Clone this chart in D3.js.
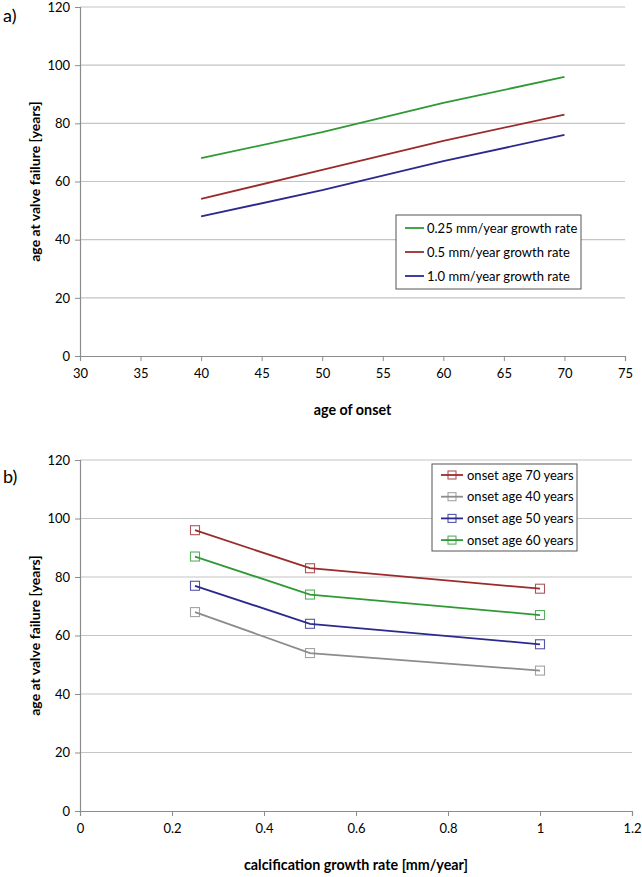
<!DOCTYPE html>
<html><head><meta charset="utf-8">
<script src="https://cdn.jsdelivr.net/npm/d3@7/dist/d3.min.js"></script>
<style>
body{margin:0;background:#fff;}
svg text{font-family:Lato,"Open Sans",sans-serif;fill:#000;}
</style></head>
<body><svg id="c" width="642" height="877"></svg>
<script>
// ---- data ----
const onsetAges = [40, 50, 60, 70];
const growthRates = [0.25, 0.5, 1.0];
const fail_025 = [68, 77, 87, 96];
const fail_05  = [54, 64, 74, 83];
const fail_10  = [48, 57, 67, 76];
const onset70 = [96, 83, 76];
const onset40 = [68, 54, 48];
const onset50 = [77, 64, 57];
const onset60 = [87, 74, 67];
const yTicks = [0, 20, 40, 60, 80, 100, 120];
const xTicksA = [30, 35, 40, 45, 50, 55, 60, 65, 70, 75];
const xTicksB = [0, 0.2, 0.4, 0.6, 0.8, 1, 1.2];
const seriesA = [
  {name: "0.25 mm/year growth rate", vals: fail_025, color: "#2f9a35"},
  {name: "0.5 mm/year growth rate", vals: fail_05, color: "#9b2b2b"},
  {name: "1.0 mm/year growth rate", vals: fail_10, color: "#2a2a8e"}
];
const seriesB = [
  {name: "onset age 70 years", vals: onset70, color: "#9b2b2b"},
  {name: "onset age 40 years", vals: onset40, color: "#8c8c8c"},
  {name: "onset age 50 years", vals: onset50, color: "#2a2a8e"},
  {name: "onset age 60 years", vals: onset60, color: "#2f9a35"}
];

const svg = d3.select("#c");
const gridC = "#c4c4c4", axisC = "#8c8c8c";

function drawFrame(x, y, xTicks, xFmt, xTitle, yTitle, xTitleY, panelLabel, labelY) {
  const g = svg.append("g");
  const [x0, x1] = x.range(), [y0, y1] = y.range();
  g.selectAll(".grid").data(yTicks.filter(d => d > 0)).join("line")
    .attr("x1", x0).attr("x2", x1).attr("y1", d => y(d)).attr("y2", d => y(d))
    .attr("stroke", gridC).attr("stroke-width", 1.2);
  const ya = d3.axisLeft(y).tickValues(yTicks).tickSize(5).tickPadding(5);
  const yg = g.append("g").attr("transform", `translate(${x0},0)`).call(ya);
  yg.select(".domain").attr("stroke", axisC).attr("stroke-width", 1.2);
  yg.selectAll(".tick line").attr("stroke", axisC);
  yg.selectAll("text").attr("font-size", 13).attr("font-family", "Lato");
  const xa = d3.axisBottom(x).tickValues(xTicks).tickFormat(xFmt).tickSize(5).tickPadding(8);
  const xg = g.append("g").attr("transform", `translate(0,${y0})`).call(xa);
  xg.select(".domain").attr("stroke", axisC).attr("stroke-width", 1.2);
  xg.selectAll(".tick line").attr("stroke", axisC);
  xg.selectAll("text").attr("font-size", 13).attr("font-family", "Lato");
  g.append("text").attr("x", (x0 + x1) / 2).attr("y", xTitleY).attr("text-anchor", "middle")
    .attr("font-size", 14.3).attr("font-weight", "bold").text(xTitle);
  g.append("text").attr("transform", `translate(40,${(y0 + y1) / 2}) rotate(-90)`)
    .attr("text-anchor", "middle").attr("font-size", 14).attr("font-weight", "bold").text(yTitle);
  g.append("text").attr("x", 3).attr("y", labelY).attr("font-size", 18)
    .attr("font-family", "Liberation Sans, Arial, sans-serif").text(panelLabel);
}

// ---- panel a ----
const xA = d3.scaleLinear().domain([30, 75]).range([80, 625]);
const yA = d3.scaleLinear().domain([0, 120]).range([356, 7]);
drawFrame(xA, yA, xTicksA, d3.format("d"), "age of onset", "age at valve failure [years]", 415, "a)", 22);
const lineA = d3.line().x((d, i) => xA(onsetAges[i])).y(d => yA(d));
svg.append("g").selectAll("path").data(seriesA).join("path")
  .attr("d", s => lineA(s.vals)).attr("fill", "none").attr("stroke", s => s.color).attr("stroke-width", 1.8);
const lgA = svg.append("g");
lgA.append("rect").attr("x", 396).attr("y", 215).attr("width", 185).attr("height", 74)
  .attr("fill", "#fff").attr("stroke", "#555").attr("stroke-width", 1);
seriesA.forEach((s, i) => {
  const cy = 228 + i * 24;
  lgA.append("line").attr("x1", 405).attr("x2", 424).attr("y1", cy).attr("y2", cy)
    .attr("stroke", s.color).attr("stroke-width", 1.8);
  lgA.append("text").attr("x", 427).attr("y", cy + 4.5).attr("font-size", 13).text(s.name);
});

// ---- panel b ----
const xB = d3.scaleLinear().domain([0, 1.2]).range([80, 632]);
const yB = d3.scaleLinear().domain([0, 120]).range([811, 460]);
drawFrame(xB, yB, xTicksB, d => d3.format("")(d), "calcification growth rate [mm/year]", "age at valve failure [years]", 870, "b)", 483);
const lineB = d3.line().x((d, i) => xB(growthRates[i])).y(d => yB(d));
const gb = svg.append("g");
seriesB.forEach(s => {
  gb.append("path").attr("d", lineB(s.vals)).attr("fill", "none").attr("stroke", s.color).attr("stroke-width", 1.8);
  gb.selectAll(null).data(s.vals).join("rect")
    .attr("x", (d, i) => xB(growthRates[i]) - 4.5).attr("y", d => yB(d) - 4.5)
    .attr("width", 9).attr("height", 9).attr("fill", "none")
    .attr("stroke", s.color).attr("stroke-opacity", 0.8).attr("stroke-width", 1.1);
});
const lgB = svg.append("g");
lgB.append("rect").attr("x", 432).attr("y", 464).attr("width", 145).attr("height", 87)
  .attr("fill", "#fff").attr("stroke", "#555").attr("stroke-width", 1);
seriesB.forEach((s, i) => {
  const cy = 475 + i * 21.7;
  lgB.append("line").attr("x1", 441).attr("x2", 463).attr("y1", cy).attr("y2", cy)
    .attr("stroke", s.color).attr("stroke-width", 1.8);
  lgB.append("rect").attr("x", 448).attr("y", cy - 4).attr("width", 8).attr("height", 8)
    .attr("fill", "none").attr("stroke", s.color).attr("stroke-opacity", 0.8).attr("stroke-width", 1.1);
  lgB.append("text").attr("x", 467).attr("y", cy + 4.5).attr("font-size", 13).text(s.name);
});
</script></body></html>
